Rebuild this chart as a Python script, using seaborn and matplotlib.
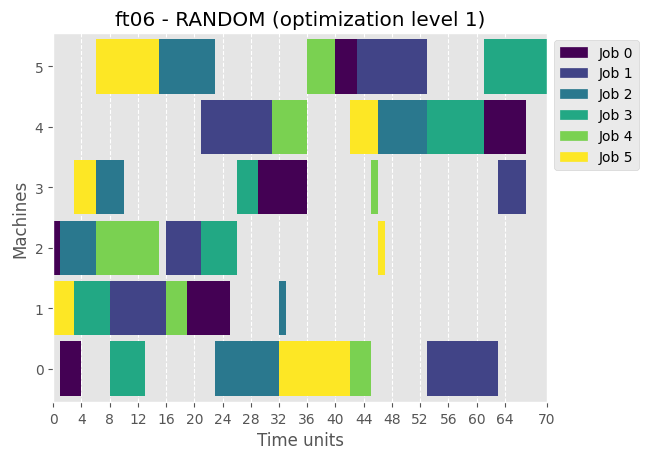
import numpy as np
import matplotlib
matplotlib.use("Agg")
import matplotlib.pyplot as plt
import matplotlib.patches as mpatches
import seaborn as sns

# Schedule data: one entry per operation
machines = [0, 0, 0, 0, 0, 0,
            1, 1, 1, 1, 1, 1,
            2, 2, 2, 2, 2, 2,
            3, 3, 3, 3, 3, 3,
            4, 4, 4, 4, 4, 4,
            5, 5, 5, 5, 5, 5]
jobs = [0, 3, 2, 5, 4, 1,
        5, 3, 1, 4, 0, 2,
        0, 2, 4, 1, 3, 5,
        5, 2, 3, 0, 4, 1,
        1, 4, 5, 2, 3, 0,
        5, 2, 4, 0, 1, 3]
starts = [1, 8, 23, 32, 42, 53,
          0, 3, 8, 16, 19, 32,
          0, 1, 6, 16, 21, 46,
          3, 6, 26, 29, 45, 63,
          21, 31, 42, 46, 53, 61,
          6, 15, 36, 40, 43, 61]
ends = [4, 13, 32, 42, 45, 63,
        3, 8, 16, 19, 25, 33,
        1, 6, 15, 21, 26, 47,
        6, 10, 29, 36, 46, 67,
        31, 36, 46, 53, 61, 67,
        15, 23, 40, 43, 53, 70]
job_names = [f"Job {j}" for j in range(6)]
makespan = 70
x_ticks = list(range(0, 65, 4)) + [makespan]

plt.style.use("ggplot")
colors = sns.color_palette("viridis", as_cmap=True)(np.linspace(0, 1, len(job_names)))

fig, ax = plt.subplots(figsize=(6.49, 4.6), dpi=100)
fig.subplots_adjust(left=0.082, right=0.843, top=0.926, bottom=0.124)

for m, j, s, e in zip(machines, jobs, starts, ends):
    ax.barh(m, e - s, left=s, height=0.9, color=colors[j])

ax.set_xlim(0, makespan)
ax.set_ylim(-0.55, 5.55)
ax.set_xticks(x_ticks)
ax.set_yticks(range(6))
ax.grid(axis="y", visible=False)
ax.grid(axis="x", linestyle="--")

ax.set_xlabel("Time units")
ax.set_ylabel("Machines")
ax.set_title("ft06 - RANDOM (optimization level 1)")

handles = [mpatches.Patch(color=colors[i], label=name) for i, name in enumerate(job_names)]
ax.legend(handles=handles, loc="upper left", bbox_to_anchor=(1, 1))

fig.savefig("out.png", dpi=100)
